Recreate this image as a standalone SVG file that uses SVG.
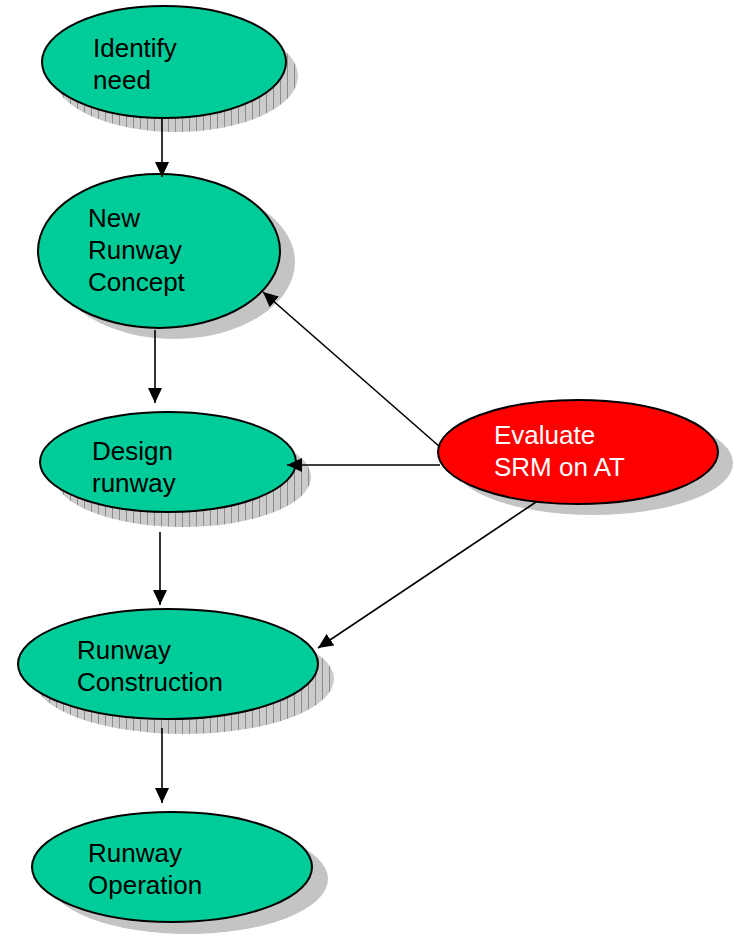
<svg xmlns="http://www.w3.org/2000/svg" width="736" height="937" viewBox="0 0 736 937">
  <defs>
    <pattern id="hatch" width="7" height="7" patternUnits="userSpaceOnUse">
      <rect width="7" height="7" fill="#cbcbcb"/>
      <line x1="0.5" y1="0" x2="0.5" y2="7" stroke="#8c8c8c" stroke-width="1"/>
    </pattern>
    <marker id="arrow" viewBox="0 0 15 14" refX="15" refY="7" markerWidth="15" markerHeight="14" markerUnits="userSpaceOnUse" orient="auto">
      <path d="M0,0 L15,7 L0,14 z" fill="#000"/>
    </marker>
    <style>
      .node { stroke: #000; stroke-width: 2; }
      .green { fill: #00cc99; }
      .red { fill: #ff0000; }
      .shadow { fill: #c4c4c4; }
      .hatched { fill: url(#hatch); }
      .label { font-family: "Liberation Sans", Arial, sans-serif; font-size: 26px; fill: #000; }
      .label.light { fill: #fff; }
      .edge { stroke: #000; stroke-width: 1.6; fill: none; marker-end: url(#arrow); }
    </style>
  </defs>
  <rect width="736" height="937" fill="#fff"/>

  <g id="identify-need">
    <ellipse class="hatched" cx="176" cy="76" rx="122" ry="56"/>
    <ellipse class="node green" cx="164" cy="62" rx="122" ry="56"/>
    <text class="label" x="93" y="57">Identify</text>
    <text class="label" x="93" y="89">need</text>
  </g>

  <g id="new-runway-concept">
    <ellipse class="shadow" cx="174" cy="262" rx="121" ry="77"/>
    <ellipse class="node green" cx="159" cy="251" rx="121" ry="77"/>
    <text class="label" x="88" y="227">New</text>
    <text class="label" x="88" y="259">Runway</text>
    <text class="label" x="88" y="291">Concept</text>
  </g>

  <g id="design-runway">
    <ellipse class="hatched" cx="183" cy="477" rx="128" ry="50"/>
    <ellipse class="node green" cx="168" cy="462" rx="128" ry="50"/>
    <text class="label" x="92" y="460">Design</text>
    <text class="label" x="92" y="492">runway</text>
  </g>

  <g id="evaluate-srm">
    <ellipse class="shadow" cx="593" cy="463" rx="140" ry="52"/>
    <ellipse class="node red" cx="578" cy="452" rx="140" ry="52"/>
    <text class="label light" x="494" y="444">Evaluate</text>
    <text class="label light" x="494" y="476">SRM on AT</text>
  </g>

  <g id="runway-construction">
    <ellipse class="hatched" cx="184" cy="679" rx="150" ry="55"/>
    <ellipse class="node green" cx="168" cy="664" rx="150" ry="55"/>
    <text class="label" x="77" y="659">Runway</text>
    <text class="label" x="77" y="691">Construction</text>
  </g>

  <g id="runway-operation">
    <ellipse class="shadow" cx="188" cy="879" rx="140" ry="55"/>
    <ellipse class="node green" cx="172" cy="867" rx="140" ry="55"/>
    <text class="label" x="88" y="862">Runway</text>
    <text class="label" x="88" y="894">Operation</text>
  </g>

  <g id="connectors">
    <line class="edge" x1="162" y1="118" x2="162" y2="177"/>
    <line class="edge" x1="155" y1="330" x2="155" y2="403"/>
    <line class="edge" x1="160" y1="532" x2="160" y2="605"/>
    <line class="edge" x1="162" y1="728" x2="162" y2="803"/>
    <line class="edge" x1="440" y1="447" x2="263" y2="292"/>
    <line class="edge" x1="440" y1="465" x2="287" y2="465"/>
    <line class="edge" x1="536" y1="502" x2="318" y2="648"/>
  </g>
</svg>
